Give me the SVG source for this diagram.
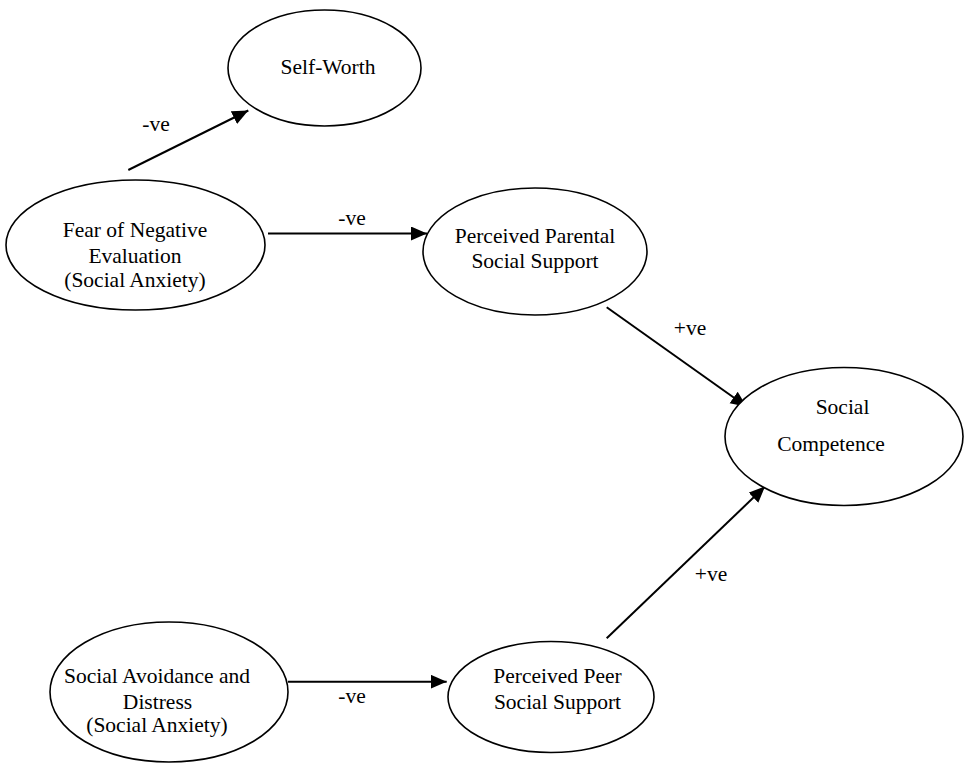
<svg xmlns="http://www.w3.org/2000/svg" width="964" height="763" viewBox="0 0 964 763">
<style>
  .node ellipse { fill: #ffffff; stroke: #000000; stroke-width: 1.6; }
  text { font-family: "Liberation Serif", "Times New Roman", serif; font-size: 21.5px; fill: #000000; text-anchor: middle; }
  .edge { stroke: #000000; stroke-width: 2; fill: none; marker-end: url(#arrow); }
</style>
<defs>
  <marker id="arrow" markerUnits="userSpaceOnUse" markerWidth="17" markerHeight="15" refX="16" refY="7" orient="auto">
    <path d="M0,0 L16,7 L0,14 z" fill="#000000"/>
  </marker>
</defs>
<rect width="964" height="763" fill="#ffffff"/>

<g id="connectors">
  <line class="edge" x1="128.3" y1="170" x2="248.3" y2="110.5"/>
  <line class="edge" x1="268" y1="233.5" x2="427" y2="233.5"/>
  <line class="edge" x1="606.7" y1="307.3" x2="746.7" y2="406.7"/>
  <line class="edge" x1="288" y1="681.7" x2="446.7" y2="681.7"/>
  <line class="edge" x1="606.7" y1="638.3" x2="765" y2="486.5"/>
  <text x="156" y="131">-ve</text>
  <text x="352" y="225">-ve</text>
  <text x="690" y="335">+ve</text>
  <text x="352" y="703">-ve</text>
  <text x="711" y="581">+ve</text>
</g>

<g id="self-worth" class="node">
  <ellipse cx="324.5" cy="68" rx="96.5" ry="58"/>
  <text x="328" y="73.5">Self-Worth</text>
</g>

<g id="fear-negative-evaluation" class="node">
  <ellipse cx="135.5" cy="245" rx="129.5" ry="65"/>
  <text x="135" y="237">Fear of Negative</text>
  <text x="135" y="263">Evaluation</text>
  <text x="135" y="287">(Social Anxiety)</text>
</g>

<g id="parental-support" class="node">
  <ellipse cx="535" cy="251.5" rx="112" ry="63.5"/>
  <text x="535" y="243">Perceived Parental</text>
  <text x="535" y="267.5">Social Support</text>
</g>

<g id="social-competence" class="node">
  <ellipse cx="844" cy="436.5" rx="119" ry="69"/>
  <text x="842.5" y="413.5">Social</text>
  <text x="831" y="451">Competence</text>
</g>

<g id="social-avoidance" class="node">
  <ellipse cx="169" cy="692" rx="119" ry="70"/>
  <text x="157" y="683">Social Avoidance and</text>
  <text x="157.5" y="708.5">Distress</text>
  <text x="157" y="732">(Social Anxiety)</text>
</g>

<g id="peer-support" class="node">
  <ellipse cx="551" cy="697" rx="103" ry="55.5"/>
  <text x="557.5" y="683">Perceived Peer</text>
  <text x="557.5" y="709">Social Support</text>
</g>
</svg>
